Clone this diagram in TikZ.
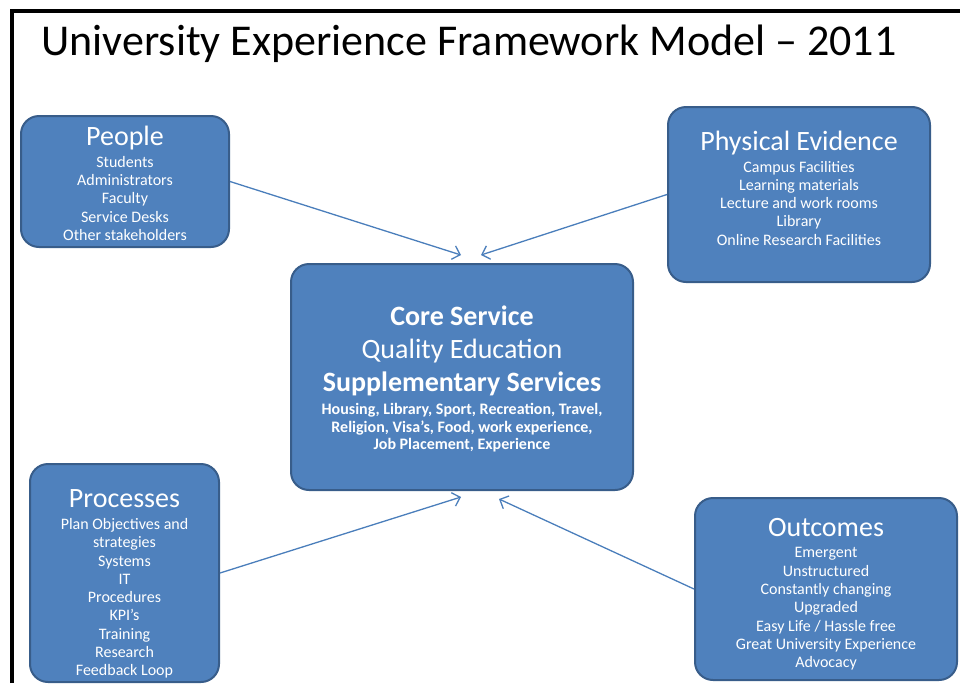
\documentclass[tikz,border=0pt]{standalone}
\usepackage{fontspec}
\setmainfont{Carlito}
\usetikzlibrary{arrows.meta,positioning}
\definecolor{uefill}{RGB}{79,129,189}
\definecolor{ueedge}{RGB}{56,93,138}
\definecolor{uearrow}{RGB}{74,126,187}
\tikzstyle{area} = [rectangle, rounded corners=18pt, draw=ueedge, line width=2pt, fill=uefill, text=white, align=center, inner sep=0pt, font=\itemsize]
\tikzstyle{arrow} = [line width=1.3pt, color=uearrow, -{Straight Barb[length=7pt,width=14pt]}]
\newcommand{\headsize}{\fontsize{28}{30}\selectfont}
\newcommand{\itemsize}{\fontsize{16}{18.3}\selectfont}
\newcommand{\coresize}{\fontsize{28}{33}\selectfont}
\newcommand{\smallsize}{\fontsize{16}{17.5}\selectfont}
\newcommand{\corestrut}{\rule[-8pt]{0pt}{32pt}}

\begin{document}
\begin{tikzpicture}[x=1pt,y=-1pt]
\useasboundingbox (0,0) rectangle (960,683);
% frame
\draw[line width=4pt] (12,683) -- (12,11) -- (960,11);
\node[anchor=base west, font=\fontsize{44}{50}\selectfont] (title) at (38,55) {University Experience Framework Model -- 2011};

% Areas
\node[area, minimum width=208pt, minimum height=131pt] (people) at (125,181.5) {
\rule{0pt}{23pt}{\headsize People}\\[3.5pt]
Students\\ Administrators\\ Faculty\\ Service Desks\\ Other stakeholders
};
\node[area, minimum width=262pt, minimum height=175pt] (evidence) at (799,194.5) {
{\headsize Physical Evidence}\\[3.5pt]
Campus Facilities\\ Learning materials\\ Lecture and work rooms\\ Library\\ Online Research Facilities\rule[-13pt]{0pt}{13pt}
};
\node[area, minimum width=342pt, minimum height=226pt, font=\smallsize] (core) at (462,377) {
\corestrut{\coresize\textbf{Core Service}}\\
\corestrut{\coresize Quality Education}\\
\corestrut{\coresize\textbf{Supplementary Services}}\\
\rule{0pt}{14pt}\textbf{Housing, Library, Sport, Recreation, Travel,}\\
\textbf{Religion, Visa’s, Food, work experience,}\\
\textbf{Job Placement, Experience}
};
\node[area, minimum width=189pt, minimum height=218pt] (processes) at (124.5,573) {
\rule{0pt}{40pt}{\headsize Processes}\\[3.5pt]
Plan Objectives and\\ strategies\\ Systems\\ IT\\ Procedures\\ KPI’s\\ Training\\ Research\\ Feedback Loop
};
\node[area, minimum width=262pt, minimum height=182pt] (outcomes) at (826,589) {
\rule{0pt}{28.5pt}{\headsize Outcomes}\\[3.5pt]
Emergent\\ Unstructured\\ Constantly changing\\ Upgraded\\ Easy Life / Hassle free\\ Great University Experience\\ Advocacy
};

% arrow ends
\coordinate (inpeople) at (461,255);
\coordinate (inevidence) at (481,255);
\coordinate (inprocesses) at (461,497);
\coordinate (inoutcomes) at (499,499);

\draw[arrow] (people.east) -- (inpeople);
\draw[arrow] (evidence.west) -- (inevidence);
\draw[arrow] (processes.east) -- (inprocesses);
\draw[arrow] (outcomes.west) -- (inoutcomes);
\end{tikzpicture}
\end{document}
